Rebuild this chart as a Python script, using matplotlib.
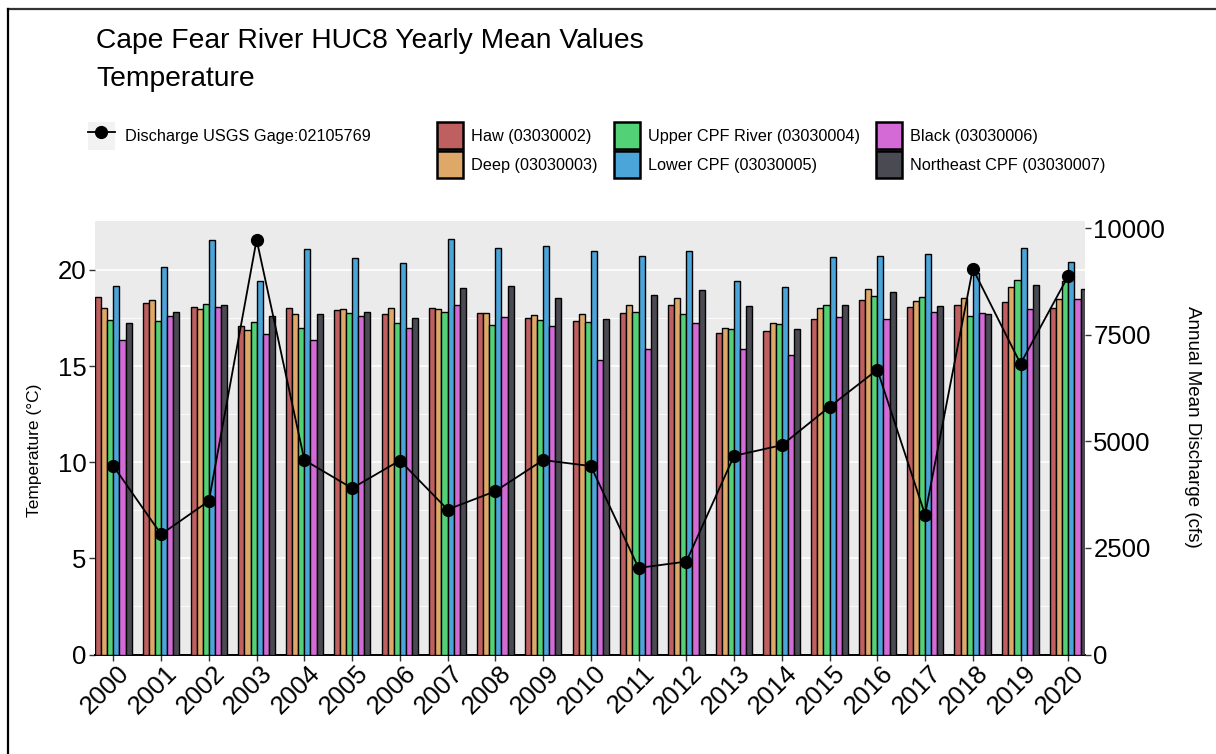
import numpy as np
import matplotlib
matplotlib.use("Agg")
import matplotlib.pyplot as plt
import matplotlib.transforms as mtransforms
from matplotlib.patches import Rectangle
from matplotlib.lines import Line2D
from matplotlib.legend_handler import HandlerTuple

plt.rcParams['font.family'] = ['Liberation Sans', 'DejaVu Sans']

years = [str(y) for y in range(2000, 2021)]
series_names = ["Haw (03030002)", "Deep (03030003)", "Upper CPF River (03030004)",
                "Lower CPF (03030005)", "Black (03030006)", "Northeast CPF (03030007)"]
series_colors = ["#BF5F5F", "#DEA869", "#53D176", "#4BA5D8", "#D46AD6", "#4A4A52"]

haw = [18.6, 18.3, 18.05, 17.1, 18.0, 17.9, 17.7, 18.0, 17.75, 17.5, 17.35,
       17.75, 18.2, 16.7, 16.8, 17.45, 18.45, 18.05, 18.15, 18.35, 18.0]
deep = [18.0, 18.45, 17.95, 16.85, 17.7, 17.95, 18.0, 17.95, 17.75, 17.65, 17.7,
        18.15, 18.55, 17.0, 17.25, 18.0, 19.0, 18.4, 18.55, 19.1, 18.5]
upper = [17.4, 17.35, 18.25, 17.3, 17.0, 17.75, 17.25, 17.8, 17.15, 17.4, 17.3,
         17.8, 17.7, 16.95, 17.2, 18.15, 18.65, 18.6, 17.6, 19.5, 19.45]
lower = [19.15, 20.15, 21.55, 19.4, 21.1, 20.6, 20.35, 21.6, 21.15, 21.25, 21.0,
         20.7, 21.0, 19.45, 19.1, 20.65, 20.75, 20.85, 19.85, 21.15, 20.4]
black = [16.35, 17.6, 18.05, 16.65, 16.35, 17.6, 17.0, 18.15, 17.55, 17.1, 15.3,
         15.9, 17.25, 15.9, 15.6, 17.55, 17.45, 17.8, 17.75, 17.95, 18.5]
northeast = [17.25, 17.8, 18.2, 17.6, 17.7, 17.8, 17.5, 19.05, 19.15, 18.55, 17.45,
             18.7, 18.95, 18.1, 16.95, 18.15, 18.85, 18.1, 17.7, 19.2, 19.0]
discharge = [4420, 2820, 3600, 9730, 4560, 3900, 4550, 3400, 3830, 4560, 4420,
             2030, 2180, 4660, 4910, 5810, 6680, 3280, 9050, 6820, 8880]

temp_series = [haw, deep, upper, lower, black, northeast]

TEMP_TOP = 22.56
SCALE = 451.0
W, H = 1216, 754

fig = plt.figure(figsize=(W / 100, H / 100), dpi=100)
ax = fig.add_axes([95 / W, 1 - 654.5 / H, (1085 - 95) / W, (654.5 - 220.7) / H])
ax.set_facecolor("#EBEBEB")
for s in ax.spines.values():
    s.set_visible(False)
ax.spines['bottom'].set_visible(True)
ax.spines['bottom'].set_color('black')
ax.spines['bottom'].set_linewidth(1.4)

x = np.arange(len(years))
n = len(temp_series)
bw = 0.128
handles = []
for i, (vals, name, col) in enumerate(zip(temp_series, series_names, series_colors)):
    off = (i - (n - 1) / 2) * bw
    b = ax.bar(x + off, vals, width=bw, color=col, edgecolor='black',
               linewidth=1.0, label=name, zorder=3)
    handles.append(b)

ax.set_xlim(-0.385, 20.35)
ax.set_ylim(0, TEMP_TOP)
ax.set_yticks([0, 5, 10, 15, 20])
ax.set_yticks([2.5, 7.5, 12.5, 17.5], minor=True)
ax.yaxis.grid(True, which='major', color='white', linewidth=1.2, zorder=0)
ax.yaxis.grid(True, which='minor', color='white', linewidth=0.6, zorder=0)
ax.set_axisbelow(True)
ax.tick_params(axis='y', which='minor', length=0)
ax.tick_params(axis='both', which='major', labelsize=18.5, length=4, width=1,
               color='#333333', labelcolor='black', pad=2)
ax.set_xticks(x)
ax.set_xticklabels(years, rotation=45, ha='right', va='center', rotation_mode='anchor')
ax.tick_params(axis='x', pad=7)
offset = mtransforms.ScaledTranslation(12 / 100, 0, fig.dpi_scale_trans)
for lab in ax.get_xticklabels():
    lab.set_transform(lab.get_transform() + offset)
ax.set_ylabel("Temperature (°C)", fontsize=12.5, va='center', ha='center')
ax.yaxis.set_label_coords((35 - 95) / 990, (654.5 - 450) / 433.8)

ax2 = ax.twinx()
for s in ax2.spines.values():
    s.set_visible(False)
ax2.set_ylim(0, TEMP_TOP * SCALE)
ax2.set_yticks([0, 2500, 5000, 7500, 10000])
ax2.tick_params(axis='y', labelsize=18.5, length=4, width=1, color='#333333',
                labelcolor='black', pad=2)
line, = ax2.plot(x, discharge, color='black', linewidth=1.3, marker='o',
                 markersize=8.5, zorder=5)
ax2.set_ylabel("Annual Mean Discharge (cfs)", fontsize=13.5, rotation=270,
               va='center', ha='center')
ax2.yaxis.set_label_coords((1193 - 95) / 990, (654.5 - 427) / 433.8)

# Titles
fig.text(96 / W, 1 - 48 / H, "Cape Fear River HUC8 Yearly Mean Values",
         fontsize=20.3, ha='left', va='baseline')
fig.text(96 / W, 1 - 86 / H, "Temperature", fontsize=20.3, ha='left', va='baseline')

# Legends
bg = Rectangle((0, 0), 1, 1, facecolor='#F2F2F2', edgecolor='none')
ln = Line2D([], [], color='black', linewidth=1.3, marker='o', markersize=8.5)
leg1 = fig.legend([(bg, ln)], ["Discharge USGS Gage:02105769"],
                  handler_map={tuple: HandlerTuple(ndivide=1)},
                  loc='center left', bbox_to_anchor=(88 / W, 1 - 136 / H),
                  frameon=False, fontsize=11.7, handlelength=1.65, handleheight=2.18,
                  handletextpad=0.6, borderpad=0, borderaxespad=0)
leg2 = fig.legend(handles, series_names, ncol=3, loc='center left',
                  bbox_to_anchor=(437 / W, 1 - 150 / H), frameon=False,
                  fontsize=11.7, handlelength=1.6, handleheight=2.18,
                  handletextpad=0.5, labelspacing=0.12, columnspacing=1.0,
                  borderpad=0, borderaxespad=0)
for h in leg2.legend_handles:
    h.set_linewidth(1.8)

# Border of the image
fig.add_artist(Line2D([8 / W, 1], [1 - 9 / H, 1 - 9 / H], transform=fig.transFigure,
                      color='#333333', linewidth=1.6))
fig.add_artist(Line2D([8 / W, 8 / W], [0, 1 - 9 / H], transform=fig.transFigure,
                      color='black', linewidth=1.6))

fig.savefig("out.png", dpi=100)
